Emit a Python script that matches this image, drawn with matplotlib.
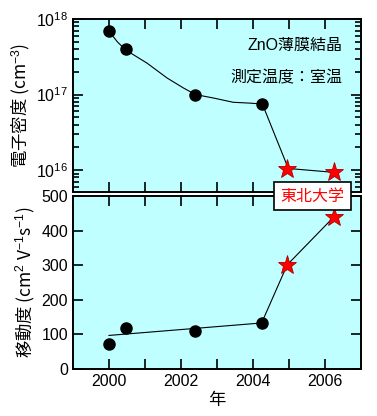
import matplotlib.pyplot as plt
import matplotlib.ticker as mticker

plt.rcParams['font.family'] = ['Liberation Sans', 'Noto Sans CJK JP', 'DejaVu Sans']
plt.rcParams['mathtext.fontset'] = 'custom'
plt.rcParams['mathtext.rm'] = 'Liberation Sans'
plt.rcParams['mathtext.it'] = 'Liberation Sans'
plt.rcParams['mathtext.bf'] = 'Liberation Sans'

# electron density (cm^-3)
years_dots = [2000.0, 2000.46, 2002.4, 2004.24]
density_dots = [6.9e17, 3.95e17, 1.0e17, 7.5e16]
years_stars = [2004.95, 2006.25]
density_stars = [1.02e16, 9.3e15]
# guide curve
guide_years = [2000.0, 2000.23, 2000.46, 2001.06, 2001.61, 2002.07, 2002.4,
               2002.9, 2003.45, 2003.91, 2004.26, 2004.98, 2006.28]
guide_density = [6.9e17, 5.0e17, 3.9e17, 2.6e17, 1.66e17, 1.22e17, 1.0e17,
                 9.0e16, 7.9e16, 7.7e16, 7.5e16, 1.05e16, 9.3e15]

# mobility (cm^2 V^-1 s^-1)
mobility_dots = [71, 119, 110, 132]
mobility_stars = [301, 440]
fit_years = [2000.0, 2004.24, 2004.95, 2006.25]
fit_mobility = [97, 133, 301, 440]

bg = '#bfffff'
fig = plt.figure(figsize=(3.77, 4.16), dpi=100)
ax1 = fig.add_axes([0.1936, 0.5385, 0.764, 0.4158])
ax2 = fig.add_axes([0.1936, 0.1130, 0.764, 0.4159])

for ax in (ax1, ax2):
    ax.set_facecolor(bg)
    ax.set_xlim(1999, 2007)
    ax.xaxis.set_major_locator(mticker.MultipleLocator(1))
    ax.tick_params(which='both', direction='in', top=True, right=True,
                   width=1.2, labelsize=11.5, color='black')
    ax.tick_params(which='major', length=7)
    ax.tick_params(which='minor', length=4)
    for s in ax.spines.values():
        s.set_linewidth(1.4)

# top panel
ax1.plot(guide_years, guide_density, color='black', lw=0.8, zorder=2)
ax1.plot(years_dots, density_dots, 'o', color='black', ms=8, zorder=3)
ax1.plot(years_stars, density_stars, '*', color='red', mec='#aa0000', mew=0.6, ms=14, zorder=3)
ax1.set_yscale('log')
ax1.set_ylim(10**15.71, 1e18)
ax1.yaxis.set_major_locator(mticker.LogLocator(base=10, numticks=10))
ax1.yaxis.set_minor_locator(mticker.LogLocator(base=10, subs=range(2, 10), numticks=20))
ax1.yaxis.set_minor_formatter(mticker.NullFormatter())
ax1.set_xticklabels([])
ax1.set_ylabel('電子密度 (cm$^{-3}$)', fontsize=12.5, labelpad=3, family='Noto Sans CJK JP')
ax1.text(0.935, 0.845, 'ZnO薄膜結晶', transform=ax1.transAxes, ha='right', va='center', fontsize=11.5)
ax1.text(0.935, 0.66, '測定温度：室温', transform=ax1.transAxes, ha='right', va='center', fontsize=11.5)

# bottom panel
ax2.plot(fit_years, fit_mobility, color='black', lw=0.8, zorder=2)
ax2.plot(years_dots, mobility_dots, 'o', color='black', ms=8, zorder=3)
ax2.plot(years_stars, mobility_stars, '*', color='red', mec='#aa0000', mew=0.6, ms=14, zorder=3)
ax2.set_ylim(0, 500)
ax2.yaxis.set_major_locator(mticker.MultipleLocator(100))
ax2.set_xticks([2000, 2001, 2002, 2003, 2004, 2005, 2006])
ax2.set_xticklabels(['2000', '', '2002', '', '2004', '', '2006'])
ax2.set_ylabel('移動度 (cm$^{2}$ V$^{-1}$s$^{-1}$)', fontsize=12.5, labelpad=3, family='Noto Sans CJK JP')
ax2.set_xlabel('年', fontsize=12.5, labelpad=3)

fig.text(312.5 / 377, 1 - 196 / 416, '東北大学', color='red', fontsize=11.5,
         ha='center', va='center', zorder=10,
         bbox=dict(boxstyle='square,pad=0.4', facecolor='white', edgecolor='black', linewidth=1.2))

plt.savefig('out.png', dpi=100)
